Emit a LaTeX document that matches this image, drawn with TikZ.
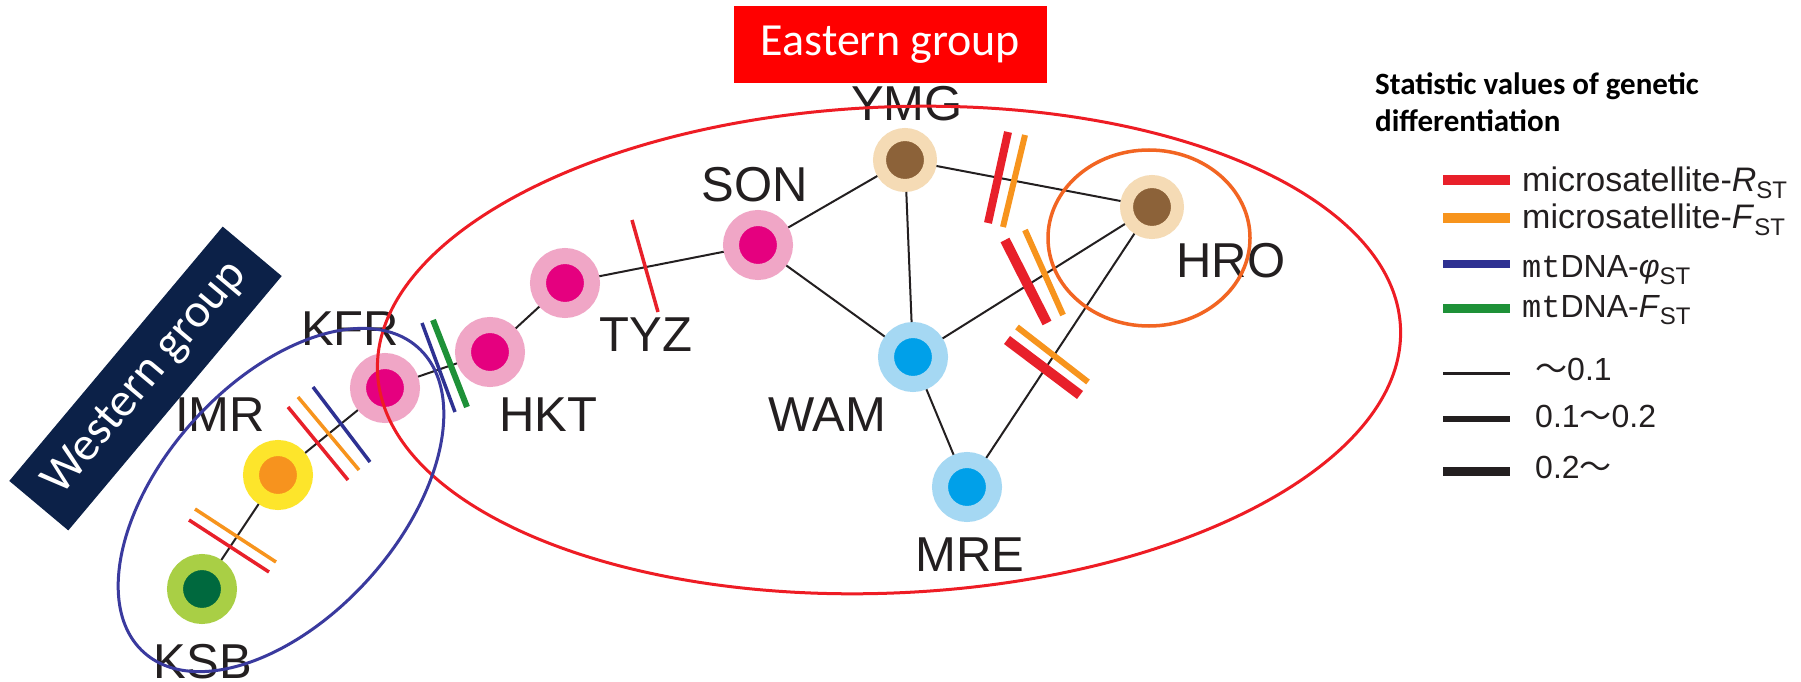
\documentclass[tikz,border=0pt]{standalone}
\usepackage{fontspec}
\setmainfont{Liberation Sans}
\newfontfamily\calib{Carlito}
\newfontfamily\monof{Liberation Mono}
\newfontfamily\cjk{Noto Sans CJK JP}
\newcommand\lsub[1]{\raisebox{-0.22em}{\fontsize{24}{24}\selectfont #1}}
\definecolor{ringpink}{HTML}{F0A6C6}
\definecolor{magenta}{HTML}{E5007F}
\definecolor{ringyellow}{HTML}{FDE52B}
\definecolor{coreorange}{HTML}{F7931E}
\definecolor{ringgreen}{HTML}{A9CF45}
\definecolor{coregreen}{HTML}{00693E}
\definecolor{ringbeige}{HTML}{F5DBB5}
\definecolor{corebrown}{HTML}{8C6239}
\definecolor{ringblue}{HTML}{A5D8F3}
\definecolor{coreblue}{HTML}{00A0E9}
\definecolor{barred}{HTML}{E8202A}
\definecolor{barorange}{HTML}{F7941D}
\definecolor{barblue}{HTML}{2E3192}
\definecolor{bargreen}{HTML}{1E9138}
\definecolor{ellred}{HTML}{EE1C24}
\definecolor{ellblue}{HTML}{3A3A9E}
\definecolor{ellorange}{HTML}{F26522}
\definecolor{navy}{HTML}{0C2148}
\definecolor{labgray}{HTML}{231F20}
\begin{document}
\begin{tikzpicture}[x=1pt,y=-1pt,
  pop/.style 2 args={circle, inner sep=0pt, minimum size=54pt, line width=16pt, fill=#1, draw=#2},
  popsmall/.style 2 args={circle, inner sep=0pt, minimum size=51pt, line width=13pt, fill=#1, draw=#2},
  lab/.style={inner sep=0pt, text=labgray, font=\fontsize{49}{58}\selectfont},
  link/.style={draw=labgray, line width=2pt},
  thinbar/.style={line width=3.5pt},
  thickbar/.style={line width=10pt},
  legtext/.style={inner sep=0pt, anchor=base west, text=labgray, font=\fontsize{32}{38}\selectfont},
  legwide/.style={legtext, font=\fontsize{34}{40}\selectfont},
  ell/.style={line width=3pt}
]
\useasboundingbox (0,0) rectangle (1801,682);
\fill[white] (0,0) rectangle (1801,682);

% population nodes
\node[pop={coregreen}{ringgreen}] (KSB) at (202,589) {};
\node[pop={coreorange}{ringyellow}] (IMR) at (278,475) {};
\node[pop={magenta}{ringpink}] (KFR) at (385,388) {};
\node[pop={magenta}{ringpink}] (HKT) at (490,352) {};
\node[pop={magenta}{ringpink}] (TYZ) at (565,283) {};
\node[pop={magenta}{ringpink}] (SON) at (758,245) {};
\node[popsmall={corebrown}{ringbeige}] (YMG) at (905,160) {};
\node[popsmall={corebrown}{ringbeige}] (HRO) at (1152,207) {};
\node[pop={coreblue}{ringblue}] (WAM) at (913,357) {};
\node[pop={coreblue}{ringblue}] (MRE) at (967,487) {};

% links
\draw[link] (KSB) -- (IMR);
\draw[link] (IMR) -- (KFR);
\draw[link] (KFR) -- (HKT);
\draw[link] (HKT) -- (TYZ);
\draw[link] (TYZ) -- (SON);
\draw[link] (SON) -- (YMG);
\draw[link] (SON) -- (WAM);
\draw[link] (YMG) -- (WAM);
\draw[link] (YMG) -- (HRO);
\draw[link] (WAM) -- (HRO);
\draw[link] (WAM) -- (MRE);
\draw[link] (MRE) -- (HRO);

% differentiation bars
\draw[thinbar, barorange] (195,509) -- (276,562);
\draw[thinbar, barred] (189,520) -- (269,572);
\draw[thinbar, barred] (288,407) -- (348,480);
\draw[thinbar, barorange] (298,397) -- (359,470);
\draw[thinbar, barblue] (313,387) -- (370,462);
\draw[thinbar, barblue] (422,323) -- (455,412);
\draw[line width=6pt, bargreen] (433,320) -- (467,407);
\draw[thinbar, barred] (632,220) -- (658,312);
\draw[line width=8pt, barred] (1008,132) -- (988,223);
\draw[line width=6pt, barorange] (1025,135) -- (1003,227);
\draw[thickbar, barred] (1005,240) -- (1047,323);
\draw[line width=6pt, barorange] (1025,230) -- (1063,315);
\draw[thickbar, barred] (1007,340) -- (1080,395);
\draw[line width=6pt, barorange] (1017,327) -- (1088,382);

% labels
\node[lab] (lKSB) at (203,662) {KSB};
\node[lab] (lIMR) at (220,415) {IMR};
\node[lab] (lKFR) at (350,329) {KFR};
\node[lab] (lHKT) at (548,415) {HKT};
\node[lab] (lTYZ) at (646,335) {TYZ};
\node[lab] (lSON) at (755,185) {SON};
\node[lab] (lYMG) at (907,104) {YMG};
\node[lab] (lHRO) at (1231,261) {HRO};
\node[lab] (lWAM) at (827,415) {WAM};
\node[lab] (lMRE) at (970,555) {MRE};

% group ellipses
\draw[ell, ellred, rotate around={2.5:(889,350)}] (889,350) ellipse [x radius=512, y radius=243];
\draw[ell, ellblue, rotate around={48:(281,500)}] (281,500) ellipse [x radius=205, y radius=118];
\draw[line width=3.5pt, ellorange] (1149,238) ellipse [x radius=101, y radius=88];

% group boxes
\node[fill=red, text=white, minimum width=313pt, minimum height=77pt, inner sep=0pt,
      font=\calib\fontsize{46}{55}\selectfont] (east) at (890.5,44.5) {Eastern group};
\node[fill=navy, text=white, minimum width=332pt, minimum height=77pt, inner sep=0pt, rotate=50,
      font=\calib\fontsize{48}{58}\selectfont] (west) at (145.5,378.5) {Western group};

% legend
\node[inner sep=0pt, anchor=north west, align=left, text=black,
      font=\calib\bfseries\fontsize{31}{37}\selectfont] (legtitle) at (1375,73)
      {Statistic values of genetic\\differentiation};
\draw[line width=10pt, barred] (1443,180) -- (1510,180);
\draw[line width=10pt, barorange] (1443,218) -- (1510,218);
\draw[line width=8pt, barblue] (1443,264) -- (1510,264);
\draw[line width=9pt, bargreen] (1443,308) -- (1510,308);
\draw[line width=3pt, labgray] (1443,373) -- (1510,373);
\draw[line width=6pt, labgray] (1443,419) -- (1510,419);
\draw[line width=9pt, labgray] (1443,471) -- (1510,471);
\node[legwide] (k1) at (1522,191) {microsatellite-\textit{R}\lsub{ST}};
\node[legwide] (k2) at (1522,228) {microsatellite-\textit{F}\lsub{ST}};
\node[legtext] (k3) at (1522,277) {{\monof mt}DNA-\textit{φ}\lsub{ST}};
\node[legtext] (k4) at (1522,317) {{\monof mt}DNA-\textit{F}\lsub{ST}};
\node[legtext] (k5) at (1535,380) {{\cjk 〜}0.1};
\node[legtext] (k6) at (1535,427) {0.1{\cjk 〜}0.2};
\node[legtext] (k7) at (1535,478) {0.2{\cjk 〜}};
\end{tikzpicture}
\end{document}
